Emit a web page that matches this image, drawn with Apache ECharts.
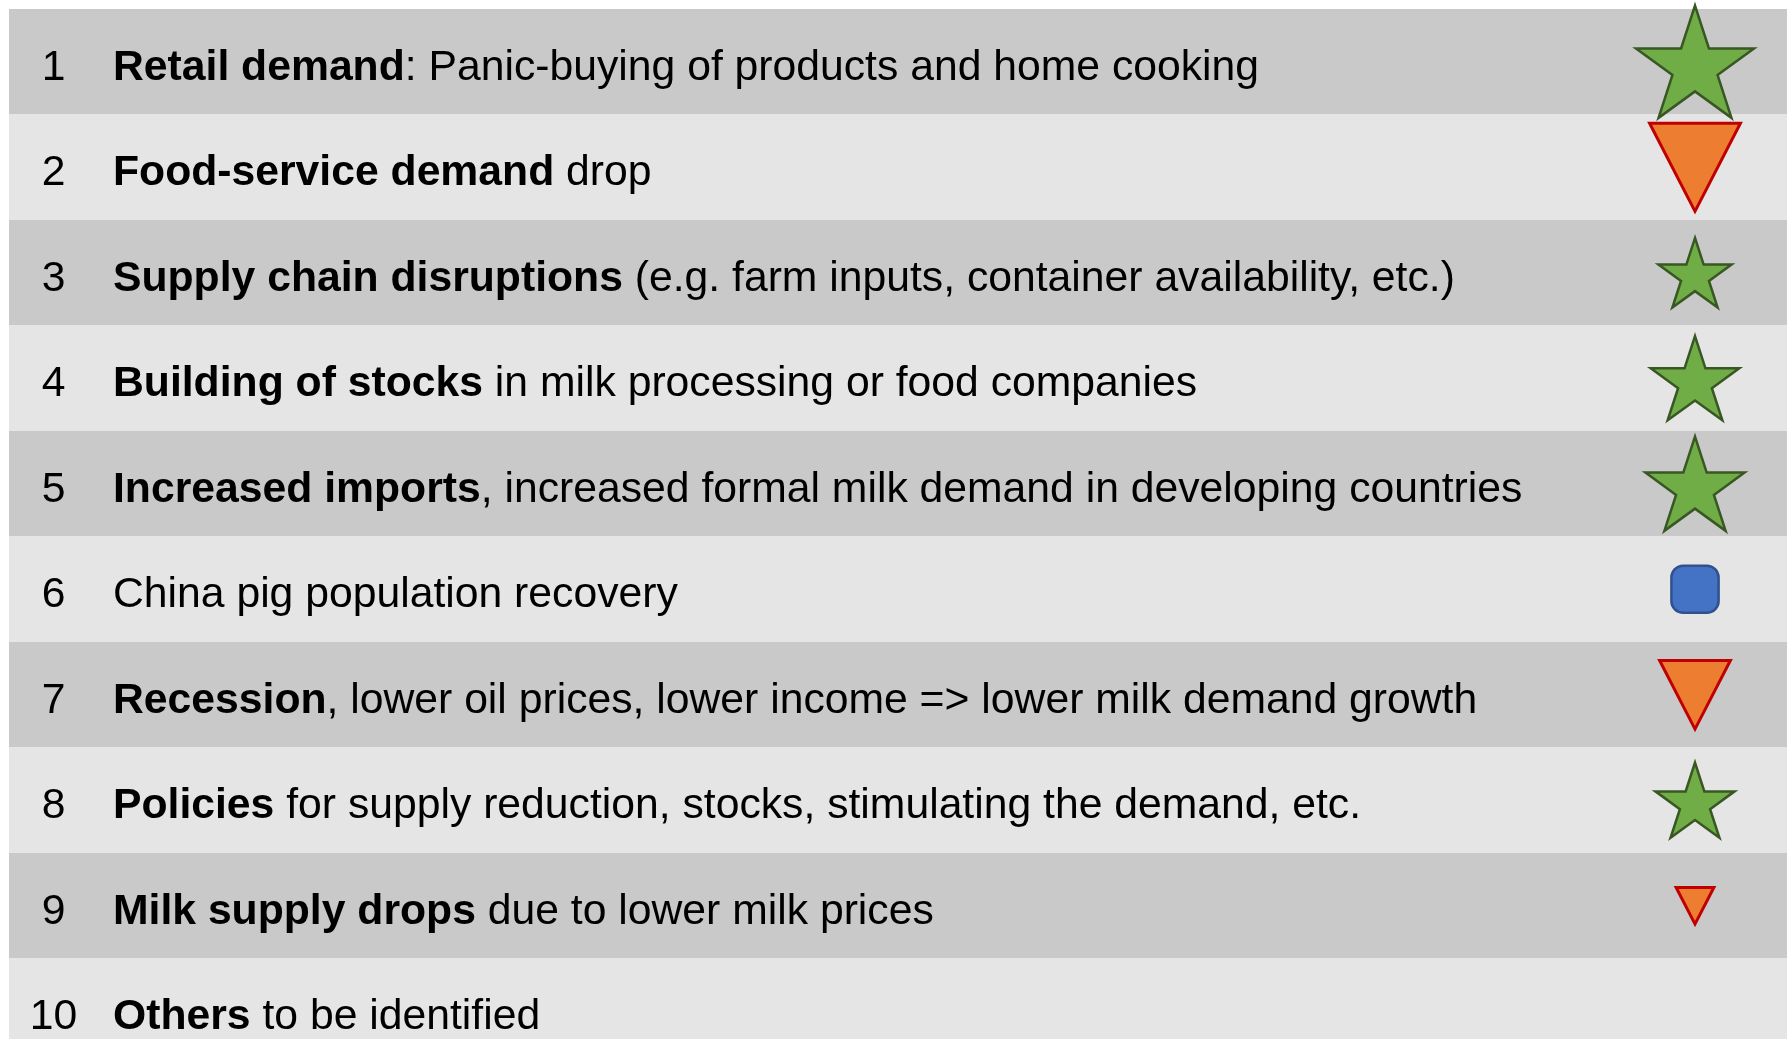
<!DOCTYPE html>
<html>
<head>
<meta charset="utf-8">
<title>Market factors</title>
<script src="https://cdn.jsdelivr.net/npm/echarts@6/dist/echarts.min.js"></script>
<style>
  html, body { margin: 0; padding: 0; background: #ffffff; }
  #main { width: 1787px; height: 1039px; }
</style>
</head>
<body>
<div id="main"></div>
<script>
// row numbers
const rank = ['1', '2', '3', '4', '5', '6', '7', '8', '9', '10'];
// bold part of each factor
const factorBold = [
  'Retail demand',
  'Food-service demand',
  'Supply chain disruptions',
  'Building of stocks',
  'Increased imports',
  '',
  'Recession',
  'Policies',
  'Milk supply drops',
  'Others'
];
// rest of each factor
const factorRest = [
  ': Panic-buying of products and home cooking',
  ' drop',
  ' (e.g. farm inputs, container availability, etc.)',
  ' in milk processing or food companies',
  ', increased formal milk demand in developing countries',
  'China pig population recovery',
  ', lower oil prices, lower income => lower milk demand growth',
  ' for supply reduction, stocks, stimulating the demand, etc.',
  ' due to lower milk prices',
  ' to be identified'
];
// impact on the market: up = star, down = triangle, neutral = square
const impactDirection = ['up', 'down', 'up', 'up', 'up', 'neutral', 'down', 'up', 'down', null];
// relative strength of the impact (size of the icon)
const impactStrength = [10, 7.7, 6.2, 7.5, 8.4, 4.0, 6.0, 6.7, 3.2, null];

const starPath = 'path://M0,-100L22.45,-30.9L95.11,-30.9L36.33,11.8L58.78,80.9L0,38.2L-58.78,80.9L-36.33,11.8L-95.11,-30.9L-22.45,-30.9Z';
const downPath = 'path://M0,0L100,0L50,97Z';

const symbolFor = {
  up: { symbol: starPath, itemStyle: { color: '#70AD47', borderColor: '#385723', borderWidth: 2.5, opacity: 1 } },
  down: { symbol: downPath, itemStyle: { color: '#ED7D31', borderColor: '#C00000', borderWidth: 3, opacity: 1 } },
  neutral: { symbol: 'roundRect', itemStyle: { color: '#4472C4', borderColor: '#2F528F', borderWidth: 2.5, opacity: 1 } }
};

const impactData = [];
impactDirection.forEach((dir, i) => {
  if (!dir) return;
  impactData.push({
    value: ['Impact', rank[i]],
    symbol: symbolFor[dir].symbol,
    symbolSize: impactStrength[i] * 11.8,
    itemStyle: symbolFor[dir].itemStyle
  });
});

const myChart = echarts.init(document.getElementById('main'));

const option = {
  animation: false,
  backgroundColor: '#ffffff',
  textStyle: { fontFamily: 'Liberation Sans, Arial, sans-serif' },
  grid: [
    { left: 9, right: 0, top: 9, height: 1055, outerBoundsMode: 'none' },
    { left: 1645, width: 100, top: 9, height: 1055, outerBoundsMode: 'none' }
  ],
  xAxis: [
    { gridIndex: 0, type: 'value', min: 0, max: 1, show: false },
    { gridIndex: 1, type: 'category', data: ['Impact'], show: false }
  ],
  yAxis: [
    {
      gridIndex: 0,
      type: 'category',
      inverse: true,
      data: rank,
      axisLine: { show: false },
      axisTick: { show: false },
      splitLine: { show: false },
      splitArea: {
        show: true,
        interval: 0,
        areaStyle: { color: ['#C9C9C9', '#E5E5E5'] }
      },
      axisLabel: {
        inside: true,
        interval: 0,
        margin: 14.5,
        padding: [12, 0, 0, 0],
        formatter: function (value, idx) {
          let s = '{n|' + value + '}{sp| }';
          if (factorBold[idx]) s += '{b|' + factorBold[idx] + '}';
          s += '{r|' + factorRest[idx] + '}';
          return s;
        },
        rich: {
          n: { width: 60, align: 'center', fontSize: 42.7, color: '#000000', fontFamily: 'Liberation Sans' },
          sp: { width: 29.5, fontSize: 42.7 },
          b: { fontSize: 42.7, fontWeight: 'bold', color: '#000000', fontFamily: 'Liberation Sans' },
          r: { fontSize: 42.7, color: '#000000', fontFamily: 'Liberation Sans' }
        }
      }
    },
    {
      gridIndex: 1,
      type: 'category',
      inverse: true,
      data: rank,
      show: false
    }
  ],
  series: [
    {
      name: 'Impact',
      type: 'scatter',
      xAxisIndex: 1,
      yAxisIndex: 1,
      symbolKeepAspect: true,
      itemStyle: { opacity: 1 },
      data: impactData
    }
  ]
};

option && myChart.setOption(option);
</script>
</body>
</html>
